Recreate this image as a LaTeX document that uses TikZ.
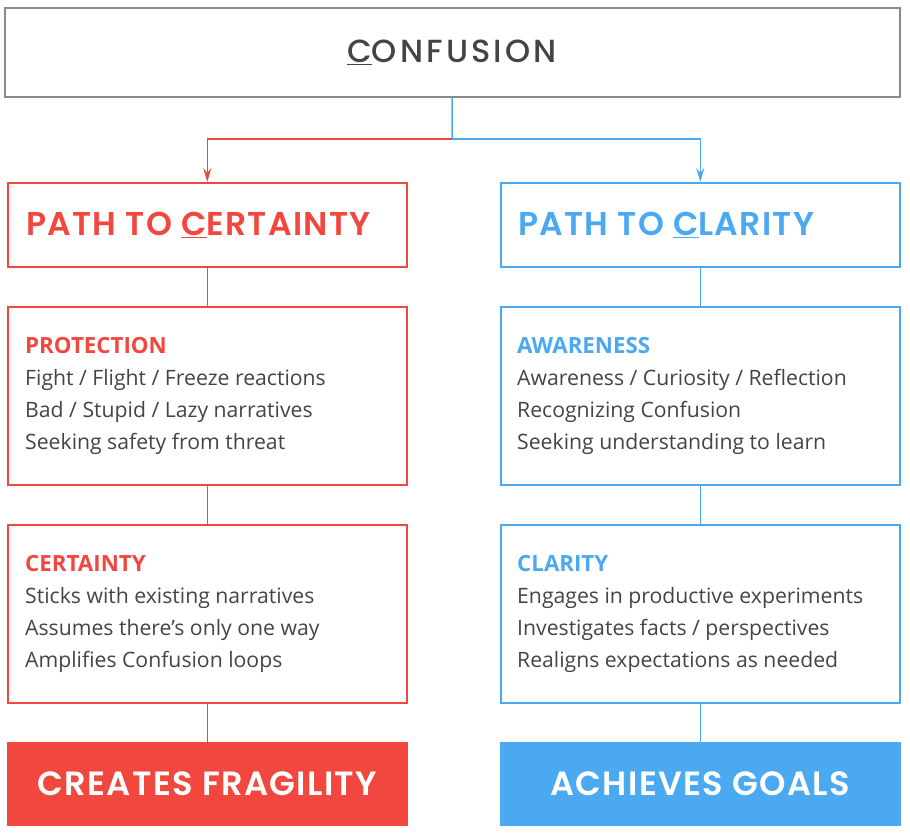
\documentclass[tikz,border=0pt]{standalone}
\usepackage{fontspec}
\setmainfont{Open Sans}
\newfontfamily\headfont{Poppins SemiBold}[LetterSpace=4]
\newfontfamily\topfont{Poppins Medium}[LetterSpace=10]
\usetikzlibrary{arrows.meta}
\definecolor{cred}{HTML}{F2473F}
\definecolor{cblue}{HTML}{4AA9F1}
\definecolor{cgray}{HTML}{444444}
\definecolor{cborder}{HTML}{8A8A8A}
\newcommand{\subhead}[2]{{\fontsize{22.3}{32}\selectfont\bfseries\textcolor{#1}{#2}}}
\tikzset{
  frame/.style={draw, line width=1.5pt, anchor=north west, inner sep=0pt, minimum width=399pt},
  titlebox/.style={frame, minimum height=84pt},
  contentbox/.style={frame, minimum height=178pt},
  endbox/.style={frame, minimum height=82pt},
  titletext/.style={anchor=west, inner sep=0pt, font=\headfont\fontsize{33}{33}\selectfont},
  bodytext/.style={anchor=west, inner sep=0pt, align=left, text=cgray, font=\fontsize{21.2}{32}\selectfont},
  endtext/.style={inner sep=0pt, text=white, font=\headfont\fontsize{33.6}{34}\selectfont},
  conn/.style={line width=1.5pt},
  arr/.style={conn, -{Stealth[length=14pt, width=8pt, inset=5pt]}}
}
\begin{document}
\begin{tikzpicture}[x=1pt, y=-1pt]
\useasboundingbox (0,0) rectangle (910,838);
% top
\node[frame, draw=cborder, minimum width=895pt, minimum height=89pt] (top) at (4,7) {};
\node[inner sep=0pt, text=cgray, font=\topfont\fontsize{32}{32}\selectfont] (toptext) at (452,52) {\underline{C}ONFUSION};
% left column
\node[titlebox, draw=cred] (lt) at (7,182) {};
\node[titletext, text=cred] (ltt) at ([xshift=19pt]lt.west) {PATH TO \underline{C}ERTAINTY};
\node[contentbox, draw=cred] (l1) at (7,306) {};
\node[bodytext] (l1t) at ([xshift=18pt]l1.west) {\subhead{cred}{PROTECTION}\\Fight / Flight / Freeze reactions\\Bad / Stupid / Lazy narratives\\Seeking safety from threat};
\node[contentbox, draw=cred] (l2) at (7,524) {};
\node[bodytext] (l2t) at ([xshift=18pt]l2.west) {\subhead{cred}{CERTAINTY}\\Sticks with existing narratives\\Assumes there’s only one way\\Amplifies Confusion loops};
\node[endbox, draw=cred, fill=cred] (l3) at (7,742) {};
\node[endtext] (l3t) at (l3.center) {CREATES FRAGILITY};
% right column
\node[titlebox, draw=cblue] (rt) at (500,182) {};
\node[titletext, text=cblue] (rtt) at ([xshift=18pt]rt.west) {PATH TO \underline{C}LARITY};
\node[contentbox, draw=cblue] (r1) at (500,306) {};
\node[bodytext] (r1t) at ([xshift=17pt]r1.west) {\subhead{cblue}{AWARENESS}\\Awareness / Curiosity / Reflection\\Recognizing Confusion\\Seeking understanding to learn};
\node[contentbox, draw=cblue] (r2) at (500,524) {};
\node[bodytext] (r2t) at ([xshift=17pt]r2.west) {\subhead{cblue}{CLARITY}\\Engages in productive experiments\\Investigates facts / perspectives\\Realigns expectations as needed};
\node[endbox, draw=cblue, fill=cblue] (r3) at (500,742) {};
\node[endtext] (r3t) at (r3.center) {ACHIEVES GOALS};
% connectors
\coordinate (split) at (452,139);
\draw[conn, cblue] (top.south) -- (split);
\draw[arr, cred] (split) -| (lt.north);
\draw[arr, cblue] (split) -| (rt.north);
\draw[conn, cred] (lt.south) -- (l1.north);
\draw[conn, cred] (l1.south) -- (l2.north);
\draw[conn, cred] (l2.south) -- (l3.north);
\draw[conn, cblue] (rt.south) -- (r1.north);
\draw[conn, cblue] (r1.south) -- (r2.north);
\draw[conn, cblue] (r2.south) -- (r3.north);
\end{tikzpicture}
\end{document}
